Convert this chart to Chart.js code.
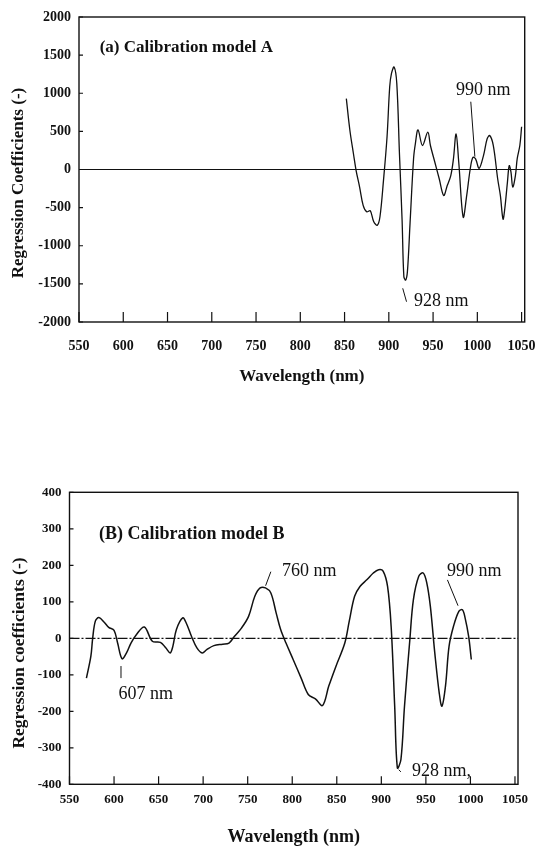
<!DOCTYPE html>
<html>
<head>
<meta charset="utf-8">
<script src="https://cdn.jsdelivr.net/npm/chart.js@4"></script>
<style>
    html, body { margin: 0; padding: 0; background: #fff; }
    #wrap { position: relative; width: 539px; height: 848px; overflow: hidden; }
    canvas { position: absolute; left: 0; }
</style>
</head>
<body>
<div id="wrap">
    <canvas id="chartA" width="539" height="410" style="top:0"></canvas>
    <canvas id="chartB" width="539" height="408" style="top:440px"></canvas>
</div>
<script>
// wavelength tick labels (nm), shared by both panels
const wavelengthTicks = [550, 600, 650, 700, 750, 800, 850, 900, 950, 1000, 1050];

// (a) calibration model A
const wavelengthA = [852, 856, 860, 863, 867, 871, 875, 879, 883, 887, 890, 894, 898, 901, 903, 906, 909, 912, 915, 917,
    919, 921, 924, 928, 930, 933, 938, 944, 947, 952, 957, 962, 966, 970, 973, 976, 979, 984, 988, 992,
    995, 998, 1002, 1007, 1011, 1014, 1018, 1023, 1026, 1029, 1031, 1034, 1036, 1038, 1040, 1043, 1045, 1048, 1050];
const coefA = [930, 515, 210, -10, -230, -470, -555, -540, -685, -730, -620, -140, 430, 1085, 1260, 1345, 1130, 210, -665, -1405,
    -1450, -1340, -700, 150, 340, 520, 315, 490, 315, 95, -125, -340, -210, -80, 140, 465, 95, -625, -340, 10,
    160, 140, 15, 185, 400, 445, 315, -125, -340, -650, -515, -165, 50, -35, -230, -80, 140, 315, 560];
const yTicksA = [-2000, -1500, -1000, -500, 0, 500, 1000, 1500, 2000];

// (B) calibration model B
const wavelengthB = [569, 574, 576, 579, 583, 589, 594, 600, 604, 609, 614, 619, 625, 634, 643, 652, 658, 663, 666, 670,
    677, 681, 687, 693, 699, 704, 712, 722, 729, 735, 743, 751, 758, 764, 770, 776, 782, 787, 793, 801,
    810, 818, 826, 834, 841, 849, 859, 864, 870, 876, 884, 891, 897, 902, 907, 911, 915, 918, 922, 926,
    932, 936, 942, 947, 951, 955, 960, 965, 968, 972, 976, 981, 987, 991, 994, 998, 1001];
const coefB = [-109, -49, 0, 47, 57, 44, 30, 22, -13, -56, -40, -13, 10, 31, -8, -11, -26, -40, -22, 24,
    56, 42, 5, -26, -40, -31, -20, -16, -13, 5, 28, 60, 115, 138, 138, 124, 69, 24, -13, -58,
    -109, -154, -166, -184, -131, -77, -13, 47, 115, 142, 161, 179, 188, 184, 142, 33, -186, -355, -332, -186,
    -4, 106, 170, 179, 152, 88, -40, -150, -186, -131, -22, 33, 74, 78, 56, 5, -58];
const yTicksB = [-400, -300, -200, -100, 0, 100, 200, 300, 400];

const SERIF = '"Liberation Serif", "DejaVu Serif", serif';
const INK = '#111';

// frame, zero line, inward tick marks, notes and the rotated y title
function makeDeco(cfg) {
    return {
        id: 'deco',
        afterDatasetsDraw(chart) {
            const {ctx, chartArea: a, scales: {x, y}} = chart;
            ctx.save();
            ctx.strokeStyle = INK;
            ctx.fillStyle = INK;

            const y0 = y.getPixelForValue(0);
            ctx.lineWidth = 1.2;
            ctx.setLineDash(cfg.zeroDash);
            ctx.beginPath();
            ctx.moveTo(a.left, y0);
            ctx.lineTo(a.right, y0);
            ctx.stroke();
            ctx.setLineDash([]);

            ctx.lineWidth = 1.4;
            ctx.strokeRect(a.left, a.top, a.right - a.left, a.bottom - a.top);

            ctx.lineWidth = 1.2;
            ctx.beginPath();
            x.ticks.forEach(t => {
                const px = x.getPixelForValue(t.value);
                ctx.moveTo(px, a.bottom);
                ctx.lineTo(px, a.bottom - cfg.xTick);
            });
            y.ticks.forEach(t => {
                const py = y.getPixelForValue(t.value);
                ctx.moveTo(a.left, py);
                ctx.lineTo(a.left + cfg.yTick, py);
            });
            ctx.stroke();

            ctx.lineWidth = 1;
            cfg.leaders.forEach(l => {
                ctx.beginPath();
                ctx.moveTo(x.getPixelForValue(l[0]), y.getPixelForValue(l[1]));
                ctx.lineTo(x.getPixelForValue(l[2]), y.getPixelForValue(l[3]));
                ctx.stroke();
            });

            ctx.textAlign = 'left';
            ctx.textBaseline = 'middle';
            cfg.notes.forEach(n => {
                ctx.font = n.f;
                ctx.fillText(n.text, x.getPixelForValue(n.x), y.getPixelForValue(n.y));
            });

            ctx.translate(cfg.yTitle.x, cfg.yTitle.y);
            ctx.rotate(-Math.PI / 2);
            ctx.textAlign = 'center';
            ctx.font = cfg.yTitle.f;
            ctx.fillText(cfg.yTitle.text, 0, 0);
            ctx.restore();
        }
    };
}

function makeChart(id, xs, ys, opt) {
    const points = xs.map((v, i) => ({x: v, y: ys[i]}));
    return new Chart(document.getElementById(id), {
        type: 'line',
        data: {
            datasets: [{
                data: points,
                borderColor: INK,
                borderWidth: opt.lineWidth,
                pointRadius: 0,
                tension: 0.35,
                fill: false
            }]
        },
        options: {
            responsive: false,
            animation: false,
            layout: {padding: opt.padding},
            plugins: {legend: {display: false}, tooltip: {enabled: false}},
            scales: {
                x: {
                    type: 'linear',
                    min: 550,
                    max: opt.xMax,
                    // hidden tick marks only push the labels down (inward ticks are drawn by deco)
                    grid: {display: false, drawTicks: true, tickLength: opt.xLabelPad},
                    border: {display: false},
                    afterBuildTicks: s => { s.ticks = wavelengthTicks.map(v => ({value: v})); },
                    afterFit: s => { s.height = opt.xHeight; },
                    ticks: {
                        color: INK,
                        padding: 0,
                        maxRotation: 0,
                        autoSkip: false,
                        callback: v => String(v),
                        font: {family: SERIF, size: opt.tickSize, weight: 'bold'}
                    },
                    title: {
                        display: true,
                        text: 'Wavelength (nm)',
                        color: INK,
                        padding: opt.xTitlePad,
                        font: {family: SERIF, size: opt.xTitleSize, weight: 'bold'}
                    }
                },
                y: {
                    min: opt.yTicks[0],
                    max: opt.yTicks[opt.yTicks.length - 1],
                    grid: {display: false, drawTicks: false},
                    border: {display: false},
                    afterBuildTicks: s => { s.ticks = opt.yTicks.map(v => ({value: v})); },
                    afterFit: s => { s.width = opt.yWidth; },
                    ticks: {
                        color: INK,
                        padding: 8,
                        autoSkip: false,
                        callback: v => String(v),
                        font: {family: SERIF, size: opt.tickSize, weight: 'bold'}
                    }
                }
            }
        },
        plugins: [makeDeco(opt.deco)]
    });
}

makeChart('chartA', wavelengthA, coefA, {
    lineWidth: 1.3,
    padding: {top: 17, right: 14.3, left: 0, bottom: 0},
    xMax: 1053.5,
    xHeight: 88,
    xLabelPad: 16,
    xTitlePad: 23,
    xTitleSize: 17,
    tickSize: 14,
    yWidth: 79,
    yTicks: yTicksA,
    deco: {
        zeroDash: [],
        xTick: 10,
        yTick: 4,
        leaders: [[992.6, 889, 997.2, 168], [915.7, -1558, 920, -1734]],
        notes: [
            {text: '(a) Calibration model A', x: 573.4, y: 1597, f: 'bold 17px ' + SERIF},
            {text: '990 nm', x: 975.9, y: 1033, f: '18px ' + SERIF},
            {text: '928 nm', x: 928.4, y: -1734, f: '18px ' + SERIF}
        ],
        yTitle: {text: 'Regression Coefficients (-)', x: 19, y: 183, f: 'bold 17px ' + SERIF}
    }
});

makeChart('chartB', wavelengthB, coefB, {
    lineWidth: 1.5,
    padding: {top: 52.3, right: 21, left: 0, bottom: 0},
    xMax: 1053.4,
    xHeight: 63.7,
    xLabelPad: 8,
    xTitlePad: 0,
    xTitleSize: 18,
    tickSize: 13,
    yWidth: 69.5,
    yTicks: yTicksB,
    deco: {
        zeroDash: [10, 2, 2, 2],
        xTick: 8,
        yTick: 4,
        leaders: [[770.1, 144, 776, 182.5], [974.2, 160, 986.1, 89.3], [607.8, -76, 607.8, -109], [919.5, -360, 922, -366]],
        notes: [
            {text: '(B) Calibration model B', x: 583.1, y: 285.7, f: 'bold 18px ' + SERIF},
            {text: '760 nm', x: 788.5, y: 184, f: '18px ' + SERIF},
            {text: '990 nm', x: 973.7, y: 182.5, f: '18px ' + SERIF},
            {text: '607 nm', x: 605.1, y: -152.6, f: '18px ' + SERIF},
            {text: '928 nm,', x: 934.4, y: -365.5, f: '18px ' + SERIF}
        ],
        yTitle: {text: 'Regression coefficients (-)', x: 19, y: 213, f: 'bold 17.5px ' + SERIF}
    }
});
</script>
</body>
</html>
